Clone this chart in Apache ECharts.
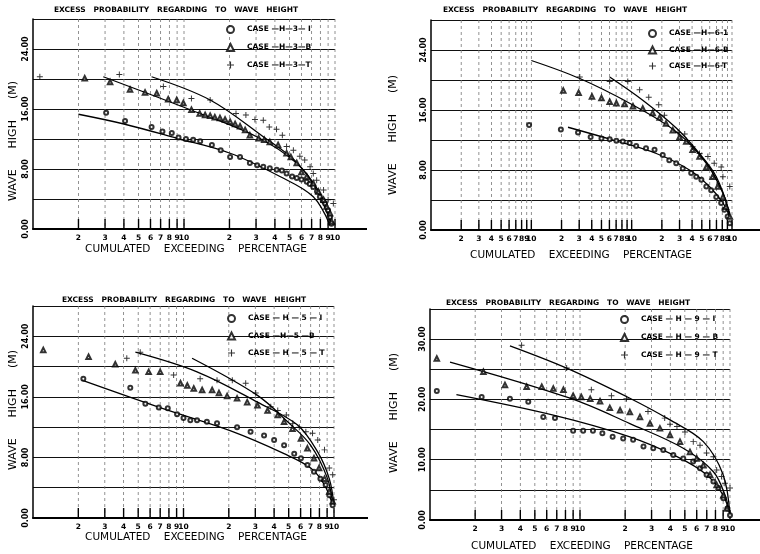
<!DOCTYPE html>
<html>
<head>
<meta charset="utf-8">
<title>Excess probability regarding to wave height</title>
<script src="https://cdn.jsdelivr.net/npm/echarts/dist/echarts.min.js"></script>
<style>
  html, body { margin: 0; padding: 0; background: #fff; }
  #chart { width: 760px; height: 554px; }
</style>
</head>
<body>
<div id="chart"></div>
<script>
// tick values / labels of the log axes (2 or 3 decades)
var xTicks2 = [2,3,4,5,6,7,8,9,10,20,30,40,50,60,70,80,90,100];
var xTickLabels2 = ['2','3','4','5','6','7','8','9','10','2','3','4','5','6','7','8','9','10'];
var xTicks3 = [2,3,4,5,6,7,8,9,10,20,30,40,50,60,70,80,90,100,200,300,400,500,600,700,800,900,1000];
var xTickLabels3 = ['2','3','4','5','6','7','8','9','10','2','3','4','5','6','7','8','9','10','2','3','4','5','6','7','8','9','10'];

// ---- CASE-H-3 (top left)
var p1Case1 = [[3.05,15.5],[4.07,14.4],[6.1,13.6],[7.2,13.0],[8.3,12.8],[9.2,12.2],[10.3,12.0],[11.5,11.9],[12.8,11.7],[15.3,11.2],[17.5,10.5],[20.2,9.6],[23.5,9.6],[27.3,8.8],[30.5,8.5],[33.5,8.3],[37,8.1],[41.1,7.9],[44.5,7.8],[47.8,7.4],[52,7.0],[55.8,6.8],[60,6.6],[65,6.3],[68,6.0],[71.8,5.6],[76,5.0],[79.4,4.3],[83,3.8],[86,3.4],[90,2.5],[92.7,1.6],[94.7,0.7]];
var p1CaseB = [[2.2,20.1],[3.24,19.6],[4.39,18.6],[5.52,18.2],[6.6,18.1],[7.86,17.3],[8.95,17.2],[9.9,16.8],[11.2,15.9],[12.7,15.4],[13.8,15.2],[14.9,15.1],[16,14.9],[17.3,14.8],[18.7,14.6],[20.2,14.3],[21.8,14.0],[23.5,13.7],[25.4,13.2],[27.3,12.5],[31.2,12.1],[34,11.9],[37,11.6],[42,11.2],[47.8,10.1],[51,9.6],[55.8,8.8],[60,7.6],[65,7.0],[71.8,6.1],[77.6,5.0],[84,3.9],[88,3.0],[92.7,2.1],[95,1.0]];
var p1CaseT = [[1.11,20.3],[3.73,20.6],[7.3,19.0],[11.2,17.4],[14.9,17.2],[22.1,15.4],[25.7,15.2],[29.5,14.6],[33.5,14.5],[36.7,13.6],[41,13.3],[44.8,12.5],[47.8,11.0],[53,10.5],[58.5,9.7],[63,9.2],[68.4,8.3],[71.8,7.4],[75.6,6.5],[84,5.2],[90,3.9],[97.5,3.4]];
var p1Fit1 = [[2.0,15.3],[4,14.0],[8.95,12.1],[20.2,10.1],[43.2,7.0],[71.8,4.3],[92.7,0.5]];
var p1FitB = [[2.92,20.3],[11.0,15.9],[30.3,12.3],[55.8,8.75],[79.5,4.75],[95,0.5]];
var p1FitT = [[6.1,20.3],[14.9,17.2],[33.5,12.3],[55,9.0],[75.6,5.2],[95,0.5]];

// ---- CASE-H-6 (top right)
var p2Case1 = [[9.5,14.0],[19.7,13.4],[29.2,13.0],[39,12.4],[50,12.2],[60.4,12.1],[70.4,11.9],[81.6,11.8],[95.5,11.6],[111,11.2],[139,10.9],[169,10.7],[204,10.0],[237,9.3],[278,8.9],[323,8.2],[392,7.6],[440,7.1],[495,6.7],[555,5.8],[620,5.3],[697,4.4],[780,3.6],[840,2.7],[905,1.8],[950,0.9]];
var p2CaseB = [[20.8,18.6],[29.6,18.3],[40.2,17.8],[50,17.6],[60.4,17.1],[70.4,16.9],[85,16.8],[103,16.5],[129,16.2],[162,15.6],[190,15.0],[220,14.2],[257,13.3],[300,12.4],[350,11.8],[405,10.7],[475,9.8],[555,8.4],[640,7.1],[720,5.8],[812,4.4],[870,3.1],[950,1.8]];
var p2CaseT = [[30.4,20.4],[60.4,19.8],[91.5,19.8],[120,18.7],[148,17.7],[186,16.7],[212,15.3],[290,13.0],[338,12.8],[405,11.1],[475,10.2],[575,9.8],[665,8.9],[780,8.4],[812,7.1],[950,5.8]];
var p2Fit1 = [[23.2,13.7],[65,12.0],[176,10.2],[377,8.0],[595,5.8],[812,3.6],[950,1.8]];
var p2FitB = [[10,22.6],[30.4,20.2],[95.5,16.9],[278,13.1],[555,8.9],[812,4.9],[950,1.8]];
var p2FitT = [[60.4,20.4],[129,17.3],[278,13.6],[440,10.7],[697,7.1],[950,2.2]];

// ---- CASE-H-5 (bottom left)
var p3Case1 = [[2.16,18.4],[4.43,17.2],[5.58,15.1],[6.85,14.6],[7.86,14.5],[9.06,13.7],[10,13.2],[11.1,12.9],[12.3,12.9],[14.3,12.7],[16.7,12.5],[22.7,12.0],[27.9,11.4],[34.3,10.9],[40,10.3],[46.6,9.6],[54.4,8.5],[60.3,7.9],[66.6,7.0],[73.6,6.1],[81.2,5.2],[88,4.35],[93,3.0],[98,1.7]];
var p3CaseB = [[1.17,22.2],[2.34,21.3],[3.52,20.3],[4.79,19.5],[5.87,19.3],[7.0,19.3],[9.55,17.8],[10.6,17.5],[11.7,17.1],[13.3,16.9],[15.5,16.9],[17.2,16.5],[19.5,16.1],[22.7,15.8],[26.5,15.3],[31,14.9],[36.2,14.2],[42.3,13.6],[46.6,12.7],[53,11.8],[60.3,10.5],[66.6,9.2],[73.6,7.9],[79.6,6.6],[86.5,5.2],[93,3.5],[98,2.2]];
var p3CaseT = [[4.2,21.1],[5.16,21.9],[8.6,18.9],[12.9,18.4],[16.7,18.2],[21.1,18.2],[25.9,17.8],[30.2,16.5],[38,14.7],[42.3,14.2],[48.2,13.6],[53.2,12.5],[58.8,12.0],[65,11.4],[72,11.2],[78,10.3],[86.5,9.0],[93,6.6],[98,5.7],[100,2.4]];
var p3Fit1 = [[2.11,18.2],[7.4,14.4],[20.6,11.5],[46.6,8.5],[70,6.6],[86.6,4.35],[98,1.7]];
var p3FitB = [[4.79,21.9],[12.3,19.3],[31,15.3],[57,12.3],[78,8.7],[93,5.2],[100,1.7]];
var p3FitT = [[11.4,21.1],[31,16.2],[49.2,12.7],[70,9.6],[90.6,5.2],[98,1.7]];

// ---- CASE-H-9 (bottom right)
var p4Case1 = [[1.11,21.4],[2.21,20.4],[3.41,20.1],[4.52,19.6],[5.69,17.1],[6.81,16.9],[9.0,14.8],[10.5,14.8],[12.2,14.8],[14.1,14.4],[16.5,13.8],[19.4,13.5],[22.6,13.3],[26.5,12.2],[30.8,11.9],[35.9,11.6],[41.9,10.8],[48.8,10.2],[56.8,9.7],[63.1,8.6],[69.8,7.5],[77.5,6.4],[83.7,5.3],[90.3,3.6],[96,1.9],[100,0.8]];
var p4CaseB = [[1.11,26.8],[2.27,24.6],[3.16,22.4],[4.41,22.1],[5.56,22.1],[6.64,21.8],[7.75,21.6],[9.0,20.6],[10.2,20.4],[11.7,20.1],[13.6,19.7],[15.8,18.6],[18.5,18.2],[21.5,17.9],[25.1,17.1],[29.3,16.0],[34.1,15.2],[39.8,14.1],[46.4,13.0],[54.1,11.3],[60,10.2],[66.4,9.1],[73.6,7.5],[81.5,5.8],[90.3,4.1],[95.4,1.9]];
var p4CaseT = [[4.08,29.0],[8.15,25.2],[11.9,21.6],[16.2,20.6],[20.4,20.1],[28.4,18.0],[36.7,16.9],[39.8,15.9],[44.3,15.5],[50.1,14.6],[56.9,13.0],[63.1,12.4],[69.8,11.1],[77.5,10.5],[81.5,8.3],[87.7,7.2],[92.4,6.1],[100,5.3]];
var p4Fit1 = [[1.5,20.8],[6.64,17.4],[21.5,13.8],[44.3,10.5],[69.8,7.5],[90,4.1],[100,0.8]];
var p4FitB = [[1.36,26.2],[8.58,20.2],[21.5,16.0],[48.8,11.9],[77.5,8.0],[93,4.0],[100,0.8]];
var p4FitT = [[3.41,28.9],[8.15,25.2],[21.5,20.2],[39.8,16.6],[66.4,13.0],[90,7.5],[100,0.8]];

var FONT = 'DejaVu Sans';
var PLUS = 'path://M4.2,0h1.6v4.2h4.2v1.6h-4.2v4.2h-1.6v-4.2h-4.2v-1.6h4.2z';

var panels = [
  {left:33, top:19, width:302, height:210, xMax:100, yMax:28, yStep:4, labelStep:8,
   ticks:xTicks2, tickLabels:xTickLabels2, c1:p1Case1, cB:p1CaseB, cT:p1CaseT, f1:p1Fit1, fB:p1FitB, fT:p1FitT,
   names:['CASE —H—3— I','CASE —H—3—B','CASE —H—3—T'], legendLeft:226, legendTop:25, legendGap:9,
   title:{x:176, y:10}, yName:{x:13, y:141}, xName:{x:196, y:249}, axisEnd:367},
  {left:431, top:20, width:301, height:210, xMax:1000, yMax:28, yStep:4, labelStep:8,
   ticks:xTicks3, tickLabels:xTickLabels3, c1:p2Case1, cB:p2CaseB, cT:p2CaseT, f1:p2Fit1, fB:p2FitB, fT:p2FitT,
   names:['CASE —H—6-1','CASE —H—6-B','CASE —H—6-T'], legendLeft:648, legendTop:29, legendGap:7.5,
   title:{x:565, y:10}, yName:{x:393, y:135}, xName:{x:581, y:255}, axisEnd:760},
  {left:33, top:306, width:301, height:212, xMax:100, yMax:28, yStep:4, labelStep:8,
   ticks:xTicks2, tickLabels:xTickLabels2, c1:p3Case1, cB:p3CaseB, cT:p3CaseT, f1:p3Fit1, fB:p3FitB, fT:p3FitT,
   names:['CASE — H — 5 — I','CASE —H—5 —B','CASE — H — 5 — T'], legendLeft:227, legendTop:314, legendGap:8.5,
   title:{x:184, y:300}, yName:{x:13, y:410}, xName:{x:196, y:537}, axisEnd:368},
  {left:430, top:309, width:300, height:211, xMax:100, yMax:35, yStep:5, labelStep:10,
   ticks:xTicks2, tickLabels:xTickLabels2, c1:p4Case1, cB:p4CaseB, cT:p4CaseT, f1:p4Fit1, fB:p4FitB, fT:p4FitT,
   names:['CASE — H — 9 — I','CASE — H — 9 — B','CASE — H — 9 — T'], legendLeft:620, legendTop:315, legendGap:9,
   title:{x:568, y:303}, yName:{x:394, y:413}, xName:{x:582, y:546}, axisEnd:760}
];

var grids = [], xAxes = [], yAxes = [], series = [], legends = [], graphics = [];

function tickSeries(i, p) {
  return {
    type: 'custom', xAxisIndex: i, yAxisIndex: i, silent: true, clip: false, z: 1,
    data: p.ticks.map(function (v) { return [v, 0]; }),
    renderItem: function (params, api) {
      var v = api.value(0);
      var top = api.coord([v, p.yMax]);
      var bot = api.coord([v, 0]);
      return {
        type: 'group',
        children: [
          {type: 'line', shape: {x1: bot[0], y1: top[1], x2: bot[0], y2: bot[1]},
           style: {stroke: '#777', lineWidth: 0.8, lineDash: [3, 3]}},
          {type: 'line', shape: {x1: bot[0], y1: bot[1] - 10, x2: bot[0], y2: bot[1]},
           style: {stroke: '#000', lineWidth: 1.4}},
          {type: 'text', x: bot[0], y: bot[1] + 9,
           style: {text: p.tickLabels[params.dataIndex], align: 'center', verticalAlign: 'middle',
                   textAlign: 'center', textVerticalAlign: 'middle',
                   fontSize: 7.5, fontWeight: 'bold', fontFamily: FONT, fill: '#000'}}
        ]
      };
    }
  };
}

panels.forEach(function (p, i) {
  grids.push({left: p.left, top: p.top, width: p.width, height: p.height});
  xAxes.push({
    gridIndex: i, type: 'log', logBase: 10, min: 1, max: p.xMax,
    axisLine: {lineStyle: {color: '#000', width: 2}},
    axisTick: {show: false}, axisLabel: {show: false}, splitLine: {show: false}
  });
  yAxes.push({
    gridIndex: i, type: 'value', min: 0, max: p.yMax, interval: p.yStep,
    axisLine: {show: true, lineStyle: {color: '#000', width: 1.5}},
    axisTick: {show: false},
    splitLine: {show: true, lineStyle: {color: '#111', width: 1}},
    axisLabel: {
      rotate: 90, margin: 3, fontSize: 8, fontWeight: 'bold', color: '#000', fontFamily: FONT,
      formatter: function (v) { return v % p.labelStep === 0 ? v.toFixed(2) : ''; }
    }
  });

  series.push(tickSeries(i, p));

  [p.f1, p.fB, p.fT].forEach(function (d) {
    series.push({
      type: 'line', xAxisIndex: i, yAxisIndex: i, data: d, smooth: 0.35,
      showSymbol: false, symbol: 'none', silent: true, z: 3,
      lineStyle: {color: '#000', width: 1.3}
    });
  });

  series.push({type: 'scatter', name: p.names[0], xAxisIndex: i, yAxisIndex: i, data: p.c1, z: 4,
    symbol: 'emptyCircle', symbolSize: 4, itemStyle: {color: '#000', borderWidth: 1.1}});
  series.push({type: 'scatter', name: p.names[1], xAxisIndex: i, yAxisIndex: i, data: p.cB, z: 4,
    symbol: 'emptyTriangle', symbolSize: 4.5, itemStyle: {color: '#000', borderWidth: 1}});
  series.push({type: 'scatter', name: p.names[2], xAxisIndex: i, yAxisIndex: i, data: p.cT, z: 4,
    symbol: PLUS, symbolSize: 6, itemStyle: {color: '#000'}});

  legends.push({
    data: p.names, left: p.legendLeft, top: p.legendTop, orient: 'vertical',
    itemWidth: 7, itemHeight: 7, itemGap: p.legendGap, padding: 0, selectedMode: false,
    textStyle: {fontSize: 7.5, fontWeight: 'bold', fontFamily: FONT, color: '#000', padding: [0, 0, 0, 8]}
  });

  graphics.push({
    type: 'text', x: p.title.x, y: p.title.y,
    style: {text: 'EXCESS   PROBABILITY   REGARDING   TO   WAVE   HEIGHT', align: 'center', verticalAlign: 'middle',
            fontSize: 7.5, fontWeight: 'bold', fontFamily: FONT, fill: '#000'}
  });
  graphics.push({
    type: 'text', x: p.yName.x, y: p.yName.y, rotation: Math.PI / 2,
    style: {text: 'WAVE      HIGH      (M)', align: 'center', verticalAlign: 'middle',
            fontSize: 11, fontFamily: FONT, fill: '#000'}
  });
  graphics.push({
    type: 'text', x: p.xName.x, y: p.xName.y,
    style: {text: 'CUMULATED    EXCEEDING    PERCENTAGE', align: 'center', verticalAlign: 'middle',
            fontSize: 10.5, fontFamily: FONT, fill: '#000'}
  });
  graphics.push({
    type: 'line', shape: {x1: p.left + p.width, y1: p.top + p.height, x2: p.axisEnd, y2: p.top + p.height},
    style: {stroke: '#000', lineWidth: 2}
  });
});

var chart = echarts.init(document.getElementById('chart'));
chart.setOption({
  backgroundColor: '#fff',
  animation: false,
  grid: grids,
  xAxis: xAxes,
  yAxis: yAxes,
  legend: legends,
  series: series,
  graphic: graphics
});
</script>
</body>
</html>
